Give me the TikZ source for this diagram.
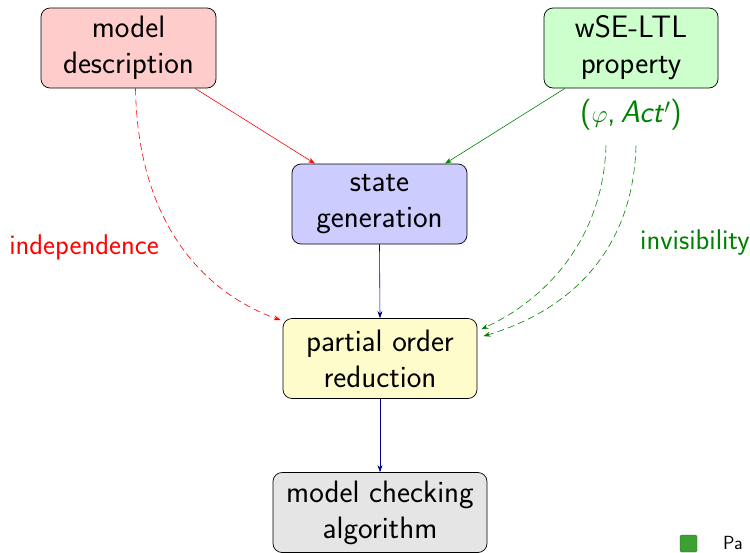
\documentclass[tikz,border=0pt]{standalone}
\usetikzlibrary{arrows.meta}
\renewcommand{\familydefault}{\sfdefault}
\definecolor{dkgreen}{RGB}{0,128,0}
\definecolor{navyline}{RGB}{0,0,128}
\definecolor{logogreen}{RGB}{60,160,50}
\tikzset{
  stage/.style={draw=black, line width=0.7pt, rounded corners=9pt, align=center, minimum height=80pt,
    inner sep=0pt, font=\fontsize{31}{36}\selectfont},
  flow/.style={-{Stealth[length=7pt,width=5pt]}, line width=0.6pt},
  hint/.style={flow, dashed, dash pattern=on 7pt off 4pt},
  lab/.style={font=\fontsize{28.5}{32}\selectfont}
}
\begin{document}
\begin{tikzpicture}[x=1pt,y=-1pt]
\useasboundingbox (0,0) rectangle (750,552);

% inputs
\node[stage, fill=red!20, minimum width=175pt] (md) at (128.5,48) {model\\description};
\node[stage, fill=green!20, minimum width=174pt] (wse) at (631,48) {wSE-LTL\\property};
\node[text=dkgreen, font=\fontsize{31}{34}\selectfont] (phi) at (631,114.5) {(\ensuremath{\varphi},\,\textit{Act}\ensuremath{'})};

% pipeline
\node[stage, fill=blue!20, minimum width=175pt] (sg) at (379.5,204) {state\\generation};
\node[stage, fill=yellow!20, minimum width=194pt] (por) at (380,358.5) {partial order\\reduction};
\node[stage, fill=black!10, minimum width=214pt] (mc) at (380,512.5) {model checking\\algorithm};

% side labels
\node[lab, text=red] (ind) at (84,247) {independence};
\node[lab, text=dkgreen, anchor=west, inner sep=0pt] (inv) at (640,242) {invisibility};

% solid flows
\draw[flow, red] ([xshift=66.5pt]md.south) -- ([xshift=-64.5pt]sg.north);
\draw[flow, dkgreen] ([xshift=-66pt]wse.south) -- ([xshift=65.5pt]sg.north);
\draw[flow, navyline] (sg.south) -- (por.north);
\draw[flow, navyline] (por.south) -- (mc.north);

% dashed influences
\draw[hint, red] ([xshift=7pt]md.south) .. controls (138,230) and (210,295) .. ([xshift=-2pt,yshift=-2pt]por.north west);
\draw[hint, dkgreen] ([xshift=-25pt,yshift=-12pt]phi.south) .. controls (603,240) and (545,300) .. ([xshift=4pt,yshift=-11pt]por.north east);
\draw[hint, dkgreen] ([xshift=5pt,yshift=-12pt]phi.south) .. controls (633,255) and (565,312) .. ([xshift=6pt,yshift=-18pt]por.north east);

% corner logo
\node[fill=logogreen, draw=logogreen!70!black, rounded corners=1.5pt, minimum size=17pt, inner sep=0pt] (logo) at (688.5,543.5) {};
\node[anchor=base west, font=\fontsize{19}{22}\selectfont, inner sep=0pt] (pa) at (723,549) {Pa};
\end{tikzpicture}
\end{document}
